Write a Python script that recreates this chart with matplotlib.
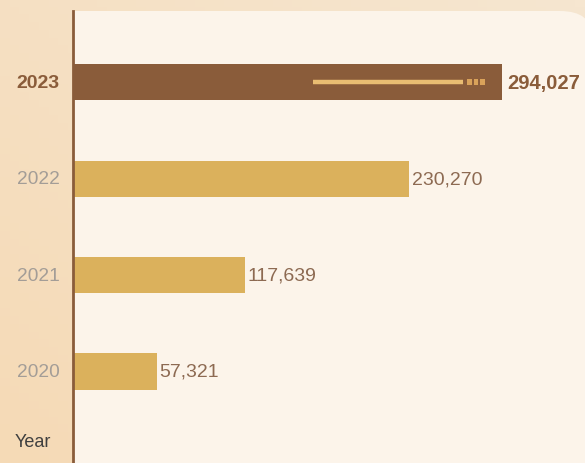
import numpy as np
import matplotlib.pyplot as plt
from matplotlib.colors import LinearSegmentedColormap
from matplotlib.patches import FancyBboxPatch, Rectangle

years = ["2023", "2022", "2021", "2020"]
values = [294027, 230270, 117639, 57321]
highlight = "2023"

plt.rcParams["font.family"] = ["Liberation Sans", "DejaVu Sans"]

W, H = 585, 464
fig = plt.figure(figsize=(W / 100, H / 100), dpi=100)
fig.patch.set_facecolor("#f5e3c8")

# soft warm gradient in the background
bg = fig.add_axes([0, 0, 1, 1], zorder=-5)
gx, gy = np.meshgrid(np.linspace(0, 1, 60), np.linspace(0, 1, 60))
grad = np.clip(0.5 * (1 - gx) + 0.5 * gy, 0, 1)
cmap = LinearSegmentedColormap.from_list("bg", ["#f6e6d0", "#f5dab6"])
bg.imshow(grad, cmap=cmap, aspect="auto", extent=[0, 1, 0, 1], origin="upper")
bg.axis("off")

# light panel behind the bars (rounded top-right corner)
panel = FancyBboxPatch((73 / W, -0.2), (592 - 73) / W, (H - 12) / H + 0.2,
                       boxstyle="round,pad=0,rounding_size=0.055",
                       transform=fig.transFigure, facecolor="#fcf4ea",
                       edgecolor="none", zorder=0)
fig.patches.append(panel)
fig.patches.append(Rectangle((73 / W, -0.2), 0.5, (H - 12) / H + 0.2,
                             transform=fig.transFigure, facecolor="#fcf4ea",
                             edgecolor="none", zorder=0))

ax = fig.add_axes([73 / W, 0, (W - 73) / W, (H - 12) / H])
ax.set_zorder(2)
ax.set_facecolor("none")
xmax = values[0] * (W - 73) / 429
ax.set_xlim(0, xmax)
ax.set_ylim(3.95, -0.74)
scale = xmax / (W - 73)

pos = list(range(len(years)))
colors = ["#8a5c3a" if y == highlight else "#dbb15c" for y in years]
ax.barh(pos, values, height=0.375, color=colors, zorder=2)

for p, y, v in zip(pos, years, values):
    hl = y == highlight
    ax.text(v + (5 if hl else 3) * scale, p, f"{v:,}", va="center", ha="left",
            fontsize=14.5 if hl else 14, fontweight="bold" if hl else "normal",
            color="#8a5c3a" if hl else "#8d6a52", zorder=3)
    ax.text(-35 * scale, p, y, va="center", ha="center",
            fontsize=14 if hl else 13.8, fontweight="bold" if hl else "normal",
            color="#8a5c3a" if hl else "#a39d97", clip_on=False)

# decoration inside the highlighted bar
i = years.index(highlight)
ax.plot([(313 - 73) * scale, (463 - 73) * scale], [i, i], color="#e9bd72",
        lw=3.2, solid_capstyle="butt", zorder=3)
for k in range(3):
    x0 = (467 + k * 6.5 - 73) * scale
    ax.add_patch(Rectangle((x0, i - 0.035), 4.5 * scale, 0.066,
                           facecolor="#d9a25a", edgecolor="none", zorder=3))

ax.text(-40 * scale, 3.73, "Year", va="center", ha="center",
        fontsize=13, color="#3f3f3f", clip_on=False)

for s in ["top", "right", "bottom"]:
    ax.spines[s].set_visible(False)
ax.spines["left"].set_color("#8a5c3a")
ax.spines["left"].set_linewidth(2)
ax.set_xticks([])
ax.set_yticks([])

fig.savefig("out.png", dpi=100)
